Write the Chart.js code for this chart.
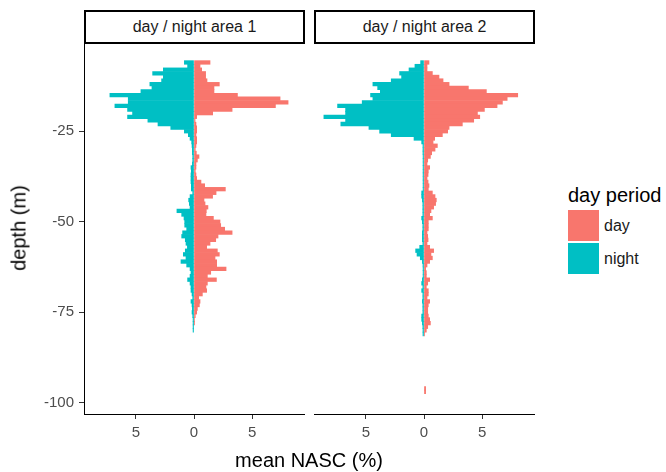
<!DOCTYPE html>
<html>
<head>
<meta charset="utf-8">
<script src="https://cdn.jsdelivr.net/npm/chart.js@4.4.0/dist/chart.umd.min.js"></script>
<style>
  body { margin: 0; background: #fff; font-family: "Liberation Sans", Arial, sans-serif; }
  #wrap { position: relative; width: 666px; height: 472px; overflow: hidden; }
  .strip {
    position: absolute; top: 10px; width: 221px; height: 34px; box-sizing: border-box;
    border: 2px solid #000; text-align: center; line-height: 30px; font-size: 16px; color: #1a1a1a;
  }
  canvas { position: absolute; top: 44px; }
  #ytitle {
    position: absolute; left: 19px; top: 228px; font-size: 20px; color: #000; white-space: nowrap;
    transform: translate(-50%, -50%) rotate(-90deg);
  }
  #xtitle {
    position: absolute; left: 309px; top: 460px; font-size: 20px; color: #000; white-space: nowrap;
    transform: translate(-50%, -50%);
  }
  #legend { position: absolute; left: 568px; top: 183px; }
  #legend .title { font-size: 20px; color: #000; height: 26px; line-height: 24px; }
  #legend .row { display: flex; align-items: center; height: 33px; }
  #legend .key { width: 31px; height: 31px; margin-right: 5px; }
  #legend .lab { font-size: 16px; color: #1a1a1a; }
</style>
</head>
<body>
<div id="wrap">
  <div class="strip" style="left:84px">day / night area 1</div>
  <div class="strip" style="left:314px">day / night area 2</div>
  <canvas id="area1" width="310" height="420" style="left:0px"></canvas>
  <canvas id="area2" width="230" height="420" style="left:310px"></canvas>
  <div id="ytitle">depth (m)</div>
  <div id="xtitle">mean NASC (%)</div>
  <div id="legend"></div>
</div>
<script>
// depth bins (m), one bar per metre
const depths = [
  -6, -7, -8, -9, -10, -11, -12, -13, -14, -15,
  -16, -17, -18, -19, -20, -21, -22, -23, -24, -25,
  -26, -27, -28, -29, -30, -31, -32, -33, -34, -35,
  -36, -37, -38, -39, -40, -41, -42, -43, -44, -45,
  -46, -47, -48, -49, -50, -51, -52, -53, -54, -55,
  -56, -57, -58, -59, -60, -61, -62, -63, -64, -65,
  -66, -67, -68, -69, -70, -71, -72, -73, -74, -75,
  -76, -77, -78, -79, -80, -81, -82, -83, -84, -85,
  -86, -87, -88, -89, -90, -91, -92, -93, -94, -95,
  -96, -97, -98
];

// mean NASC (%) per depth bin, area 1
const dayArea1 = [
  1.38, 0.52, 0.66, 1.0, 1.0, 1.12, 2.18, 1.72, 1.72, 3.74,
  7.41, 8.1, 7.01, 3.28, 1.61, 0.23, 0.09, 0.17, 0.23, 0.23,
  0.17, 0.23, 0.23, 0.17, 0.11, 0.2, 0.43, 0.29, 0.17, 0.17,
  0.11, 0.17, 0.23, 0.6, 0.92, 2.7, 1.9, 1.6, 0.86, 0.95,
  1.2, 1.06, 1.03, 1.67, 2.24, 2.3, 2.64, 3.28, 2.07, 1.87,
  1.38, 1.09, 2.01, 2.18, 1.81, 1.95, 1.95, 2.76, 1.44, 1.15,
  1.93, 1.15, 1.03, 1.09, 0.72, 0.4, 0.52, 0.46, 0.29, 0.23,
  0.11, 0.05, 0.03, null, null, null, null, null, null, null,
  null, null, null, null, null, null, null, null, null, null,
  null, null, null
];
const nightArea1 = [
  0.83, 0.55, 2.64, 3.56, 2.64, 2.79, 3.8, 3.62, 4.57, 7.24,
  5.66, 5.66, 6.81, 5.72, 5.29, 5.72, 3.97, 3.1, 2.0, 0.83,
  0.49, 0.34, 0.2, 0.17, 0.14, 0.14, 0.11, 0.11, 0.14, 0.26,
  0.23, 0.26, 0.26, 0.26, 0.23, 0.23, 0.11, 0.34, 0.46, 0.4,
  0.34, 1.47, 1.06, 0.86, 0.8, 0.8, 0.63, 0.98, 1.06, 0.75,
  0.69, 0.57, 0.75, 0.92, 0.69, 1.12, 0.63, 0.34, 0.26, 0.34,
  0.55, 0.34, 0.26, 0.26, 0.17, 0.11, 0.26, 0.17, 0.14, 0.17,
  0.11, 0.08, 0.08, 0.08, 0.08, null, null, null, null, null,
  null, null, null, null, null, null, null, null, null, null,
  null, null, null
];

// mean NASC (%) per depth bin, area 2
const dayArea2 = [
  0.43, 0.26, 0.26, 0.72, 1.29, 1.64, 2.16, 3.82, 5.37, 8.07,
  7.16, 6.75, 6.29, 5.2, 4.6, 4.8, 4.28, 3.3, 2.16, 2.04,
  1.58, 0.92, 0.78, 1.15, 0.95, 0.66, 0.55, 0.32, 0.26, 0.49,
  0.37, 0.35, 0.26, 0.35, 0.43, 0.37, 0.72, 0.95, 1.06, 1.0,
  0.83, 0.6, 0.49, 0.72, 0.37, 0.37, 0.37, 0.26, 0.32, 0.35,
  0.26, 0.49, 0.83, 0.6, 0.72, 0.49, 0.26, 0.14, 0.2, 0.2,
  0.49, 0.32, 0.2, 0.37, 0.37, 0.26, 0.49, 0.37, 0.32, 0.32,
  0.37, 0.49, 0.55, 0.32, 0.2, 0.06, null, null, null, null,
  null, null, null, null, null, null, null, null, null, null,
  0.14, 0.14, null
];
const nightArea2 = [
  0.29, 0.78, 1.29, 2.1, 1.93, 2.82, 4.4, 3.99, 3.76, 4.6,
  4.4, 5.32, 7.44, 6.75, 6.75, 8.62, 6.75, 7.16, 4.74, 3.82,
  2.82, 0.86, 0.2, 0.09, 0.09, 0.09, 0.08, 0.08, 0.08, 0.08,
  0.08, 0.08, 0.08, 0.08, 0.08, 0.08, 0.2, 0.2, 0.14, 0.1,
  0.1, 0.1, 0.1, 0.2, 0.14, 0.1, 0.1, 0.14, 0.14, 0.14,
  0.1, 0.37, 0.72, 0.6, 0.32, 0.14, 0.09, 0.08, 0.08, 0.08,
  0.14, 0.2, 0.1, 0.2, 0.1, 0.1, 0.14, 0.1, 0.1, 0.1,
  0.2, 0.2, 0.14, 0.1, 0.09, 0.09, null, null, null, null,
  null, null, null, null, null, null, null, null, null, null,
  null, null, null
];

const periods = ['day', 'night'];
const periodColors = ['#F8766D', '#00BFC4'];
const xTicks = [-5, 0, 5];
const yTicks = [-25, -50, -75, -100];

const tickFont = { family: "'Liberation Sans', Arial, sans-serif", size: 15 };

// night goes to the left of zero, day to the right
function toPoints(values, sign) {
    const pts = [];
    values.forEach((v, i) => {
        if (v !== null) pts.push({ x: sign * v, y: depths[i] });
    });
    return pts;
}

function makePanel(id, day, night, showY) {
    const ctx = document.getElementById(id).getContext('2d');
    return new Chart(ctx, {
        type: 'bar',
        data: {
            datasets: [
                { label: periods[0], data: toPoints(day, 1), backgroundColor: periodColors[0],
                  grouped: false, barPercentage: 1, categoryPercentage: 1, borderWidth: 0 },
                { label: periods[1], data: toPoints(night, -1), backgroundColor: periodColors[1],
                  grouped: false, barPercentage: 1, categoryPercentage: 1, borderWidth: 0 }
            ]
        },
        options: {
            indexAxis: 'y',
            responsive: false,
            animation: false,
            devicePixelRatio: 1,
            layout: { padding: { left: showY ? 0 : 4, right: 6, top: 0, bottom: 0 } },
            plugins: { legend: { display: false }, tooltip: { enabled: false } },
            scales: {
                x: {
                    type: 'linear',
                    offset: false,
                    min: -9.47, max: 9.47,
                    afterBuildTicks: s => { s.ticks = xTicks.map(v => ({ value: v })); },
                    afterFit: s => { s.height = 50; s.paddingLeft = 0; s.paddingRight = 0; },
                    ticks: { callback: v => String(Math.abs(v)), color: '#4d4d4d', font: tickFont, padding: 5, maxRotation: 0 },
                    grid: { display: true, drawOnChartArea: false, drawTicks: true, tickLength: 5, color: '#333333', offset: false },
                    border: { display: true, color: '#000000', width: 1 }
                },
                y: {
                    type: 'linear',
                    offset: false,
                    display: showY,
                    min: -103.1, max: -0.9,
                    afterBuildTicks: s => { s.ticks = yTicks.map(v => ({ value: v })); },
                    afterFit: s => { if (showY) s.width = 84; s.paddingTop = 0; s.paddingBottom = 0; },
                    ticks: { callback: v => String(v), color: '#4d4d4d', font: tickFont, padding: 5 },
                    grid: { display: true, drawOnChartArea: false, drawTicks: true, tickLength: 5, color: '#333333', offset: false },
                    border: { display: true, color: '#000000', width: 1 }
                }
            }
        }
    });
}

makePanel('area1', dayArea1, nightArea1, true);
makePanel('area2', dayArea2, nightArea2, false);

// legend
const legend = document.getElementById('legend');
legend.innerHTML = '<div class="title">day period</div>' + periods.map((p, i) =>
    `<div class="row"><div class="key" style="background:${periodColors[i]}"></div><span class="lab">${p}</span></div>`
).join('');
</script>
</body>
</html>
